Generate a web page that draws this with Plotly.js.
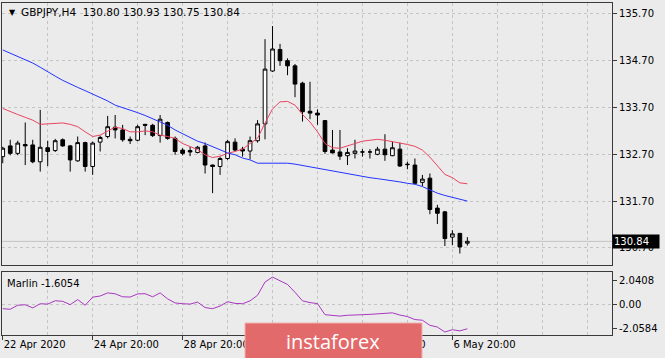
<!DOCTYPE html>
<html><head><meta charset="utf-8">
<script src="https://cdn.plot.ly/plotly-3.0.1.min.js"></script>
<style>html,body{margin:0;padding:0;background:#ebebeb;}#chart{width:665px;height:358px;}</style>
</head><body><div id="chart"></div>
<script>
const symbol = 'GBPJPY';
const timeframe = 'H4';
const open = [132.65,132.88,132.72,132.91,132.90,132.54,132.84,132.78,133.01,132.88,132.56,132.95,132.44,132.96,133.08,133.28,133.22,133.02,133.00,133.34,133.32,133.10,133.38,133.04,132.79,132.78,132.74,132.88,132.47,132.44,132.61,132.96,132.81,132.77,132.99,133.35,134.48,134.94,134.70,134.59,134.22,133.62,133.58,133.42,132.79,132.75,132.67,132.72,132.75,132.75,132.70,132.81,132.67,132.81,132.49,132.47,132.10,132.19,131.55,131.47,130.93,131.01,130.80];
const high = [132.86,133.01,132.99,133.38,133.01,133.65,132.99,133.03,133.04,132.90,133.08,132.97,132.97,133.10,133.52,133.54,133.33,133.08,133.33,133.35,133.35,133.54,133.40,133.08,132.83,132.86,132.88,132.95,132.48,132.65,133.01,133.04,132.86,133.08,133.43,135.16,135.44,135.06,134.75,134.63,134.25,134.25,133.66,133.43,133.22,133.22,132.83,133.01,132.81,132.81,132.86,133.13,132.97,132.95,132.54,132.61,132.26,132.29,131.62,131.49,131.08,131.02,130.93];
const low = [132.51,132.68,132.68,132.47,132.51,132.33,132.45,132.75,132.86,132.33,132.54,132.33,132.26,132.76,133.04,133.04,132.97,132.92,132.98,133.11,133.07,132.95,133.01,132.69,132.68,132.66,132.72,132.29,131.87,132.26,132.58,132.76,132.65,132.59,132.95,133.02,134.46,134.59,134.39,133.92,133.40,133.45,133.33,132.71,132.72,132.58,132.47,132.61,132.65,132.61,132.68,132.56,132.66,132.43,132.38,132.06,132.02,131.42,131.21,130.74,130.76,130.58,130.75];
const close = [132.83,132.72,132.94,132.88,132.54,132.85,132.76,132.99,132.88,132.58,132.95,132.44,132.94,133.06,133.29,133.22,133.01,132.99,133.29,133.32,133.10,133.45,133.04,132.76,132.72,132.75,132.85,132.47,132.44,132.61,132.97,132.79,132.77,132.99,133.35,134.52,134.95,134.70,134.59,134.20,133.61,133.58,133.54,132.76,132.73,132.66,132.74,132.77,132.75,132.75,132.81,132.69,132.84,132.45,132.48,132.08,132.17,131.52,131.44,130.90,131.00,130.72,130.84];
const maFast = [133.68,133.61,133.55,133.49,133.43,133.34,133.35,133.36,133.37,133.34,133.29,133.18,133.08,133.11,133.20,133.28,133.25,133.18,133.18,133.20,133.18,133.11,133.08,133.04,132.93,132.86,132.80,132.69,132.63,132.66,132.72,132.76,132.81,132.93,133.04,133.37,133.67,133.82,133.83,133.75,133.55,133.39,133.18,132.93,132.84,132.83,132.88,132.94,132.98,133.00,133.02,133.00,132.97,132.95,132.91,132.87,132.79,132.64,132.45,132.27,132.20,132.09,132.07];
const maSlow = [134.93,134.86,134.79,134.72,134.65,134.56,134.46,134.37,134.28,134.20,134.13,134.06,133.99,133.92,133.84,133.75,133.70,133.64,133.59,133.53,133.46,133.39,133.32,133.22,133.14,133.06,132.98,132.93,132.86,132.80,132.73,132.69,132.62,132.58,132.51,132.51,132.51,132.51,132.51,132.49,132.46,132.43,132.41,132.38,132.35,132.32,132.28,132.26,132.23,132.20,132.18,132.16,132.14,132.11,132.08,132.06,132.01,131.94,131.87,131.82,131.78,131.74,131.70];
const marlin = [-0.36,-0.41,-0.06,-0.02,-0.29,0.07,0.04,0.33,0.28,-0.01,0.43,-0.06,0.64,0.74,1.01,0.93,0.67,0.65,0.92,0.94,0.67,1.01,0.49,0.14,0.07,0.04,0.21,-0.26,-0.36,-0.13,0.25,0.10,0.07,0.32,0.80,1.95,2.38,2.09,1.74,1.06,0.32,0.17,0.08,-0.88,-0.95,-1.00,-0.93,-0.88,-0.88,-0.85,-0.80,-0.80,-0.72,-0.91,-1.04,-1.30,-1.36,-1.80,-1.95,-2.38,-2.18,-2.28,-2.10];
const marlinName = 'Marlin';
const marlinValue = '-1.6054';
const tickBars = [0,12,24,36,48,60];
const tickLabels = ['22 Apr 2020','24 Apr 20:00','28 Apr 20:00','30 Apr 20:00','4 May 20:00','6 May 20:00'];
const priceTicks = [135.70,134.70,133.70,132.70,131.70,130.70];
const marlinTicks = [2.0408,0,-2.0584];
const marlinTickText = ['2.0408','0.00','-2.0584'];
const watermark = 'instaforex';

const bars = open.map((_, i) => i);
const last = open.length - 1;
const FONT = 'DejaVu Sans, Tahoma, sans-serif';
const L = 2, R = 612, T = 3, B = 335;
const px = x => (x - L) / (R - L);
const py = y => (B - y) / (B - T);

const traces = [
  {type:'candlestick', x:bars, open:open, high:high, low:low, close:close, xaxis:'x', yaxis:'y',
   increasing:{line:{color:'#000000', width:1}, fillcolor:'#ffffff'},
   decreasing:{line:{color:'#000000', width:1}, fillcolor:'#000000'},
   whiskerwidth:0, hoverinfo:'skip'},
  {type:'scatter', mode:'lines', x:bars, y:maFast, xaxis:'x', yaxis:'y', line:{color:'#e8455f', width:1}, hoverinfo:'skip'},
  {type:'scatter', mode:'lines', x:bars, y:maSlow, xaxis:'x', yaxis:'y', line:{color:'#2233ff', width:1}, hoverinfo:'skip'},
  {type:'scatter', mode:'lines', x:bars, y:marlin, xaxis:'x2', yaxis:'y2', line:{color:'#a838c0', width:1}, hoverinfo:'skip'}
];

const frame = {showline:true, mirror:true, linecolor:'#3a3a3a', linewidth:1};
const grid = {showgrid:true, gridcolor:'#c4c4c4', griddash:'3px,3px', gridwidth:1};
const minorGrid = {tickmode:'linear', tick0:0, dtick:6, showgrid:true, gridcolor:'#c4c4c4', griddash:'3px,3px', ticks:''};

const layout = {
  width:665, height:358,
  paper_bgcolor:'#ebebeb', plot_bgcolor:'#ebebeb',
  margin:{l:L, r:665-R, t:T, b:358-B},
  showlegend:false,
  font:{family:FONT, size:10, color:'#000'},
  xaxis:Object.assign({domain:[0,1], anchor:'y', range:[-0.1, 81.3], rangeslider:{visible:false},
    tickmode:'array', tickvals:tickBars, showticklabels:false, ticks:'', zeroline:false, minor:minorGrid}, frame, grid),
  xaxis2:Object.assign({domain:[0,1], anchor:'y2', matches:'x', range:[-0.1, 81.3],
    tickmode:'array', tickvals:tickBars, ticktext:tickLabels, ticklabelposition:'outside right',
    ticks:'outside', ticklen:4, tickcolor:'#3a3a3a', zeroline:false, minor:minorGrid,
    tickfont:{family:FONT, size:10, color:'#000'}}, frame, grid),
  yaxis:Object.assign({domain:[py(265), 1], anchor:'x', side:'right',
    range:[135.70 - (B - 70 - 13.9) / 46.8, 135.70 + (13.9 - T) / 46.8],
    tickmode:'array', tickvals:priceTicks, tickformat:'.2f', ticks:'outside', ticklen:4, tickcolor:'#3a3a3a',
    zeroline:false, tickfont:{family:FONT, size:10, color:'#000'}}, frame, grid),
  yaxis2:Object.assign({domain:[0, py(272)], anchor:'x2', side:'right',
    range:[-2.639, 2.820], tickmode:'array', tickvals:marlinTicks, ticktext:marlinTickText,
    ticks:'outside', ticklen:4, tickcolor:'#3a3a3a', showgrid:false, zeroline:false,
    tickfont:{family:FONT, size:10, color:'#000'}}, frame),
  shapes:[
    {type:'line', xref:'paper', x0:0, x1:1, yref:'y', y0:close[last], y1:close[last], line:{color:'#c2c2c2', width:1}, layer:'below'},
    {type:'line', xref:'paper', x0:0, x1:1, yref:'y2', y0:0, y1:0, line:{color:'#c4c4c4', width:1, dash:'3px,3px'}, layer:'below'},
    {type:'rect', xref:'paper', yref:'paper', x0:px(245), x1:px(422), y0:py(360), y1:py(323), fillcolor:'#e36a6b', line:{color:'#f0b0b0', width:1}, layer:'above'}
  ],
  annotations:[
    {xref:'paper', yref:'paper', x:px(7), y:py(12), xanchor:'left', yanchor:'middle', text:'▼', showarrow:false, font:{family:FONT, size:8, color:'#000'}},
    {xref:'paper', yref:'paper', x:px(19), y:py(12), xanchor:'left', yanchor:'middle', showarrow:false,
     text:symbol + ',' + timeframe + '  ' + [open[last], high[last], low[last], close[last]].map(v => v.toFixed(2)).join(' '),
     font:{family:FONT, size:10.5, color:'#000'}},
    {xref:'paper', yref:'paper', x:px(5), y:py(283), xanchor:'left', yanchor:'middle', showarrow:false,
     text:marlinName + ' ' + marlinValue, font:{family:FONT, size:10, color:'#000'}},
    {xref:'paper', yref:'y', x:1, y:close[last], xanchor:'left', yanchor:'middle', showarrow:false,
     text:close[last].toFixed(2), bgcolor:'#000000', width:44, height:11, align:'left', borderpad:1,
     font:{family:FONT, size:10, color:'#ffffff'}},
    {xref:'paper', yref:'paper', x:px(333), y:py(341), xanchor:'center', yanchor:'middle', showarrow:false,
     text:watermark, font:{family:'Open Sans, sans-serif', size:20, color:'#ffffff'}}
  ]
};

Plotly.newPlot('chart', traces, layout, {displayModeBar:false, staticPlot:true});
</script></body></html>
